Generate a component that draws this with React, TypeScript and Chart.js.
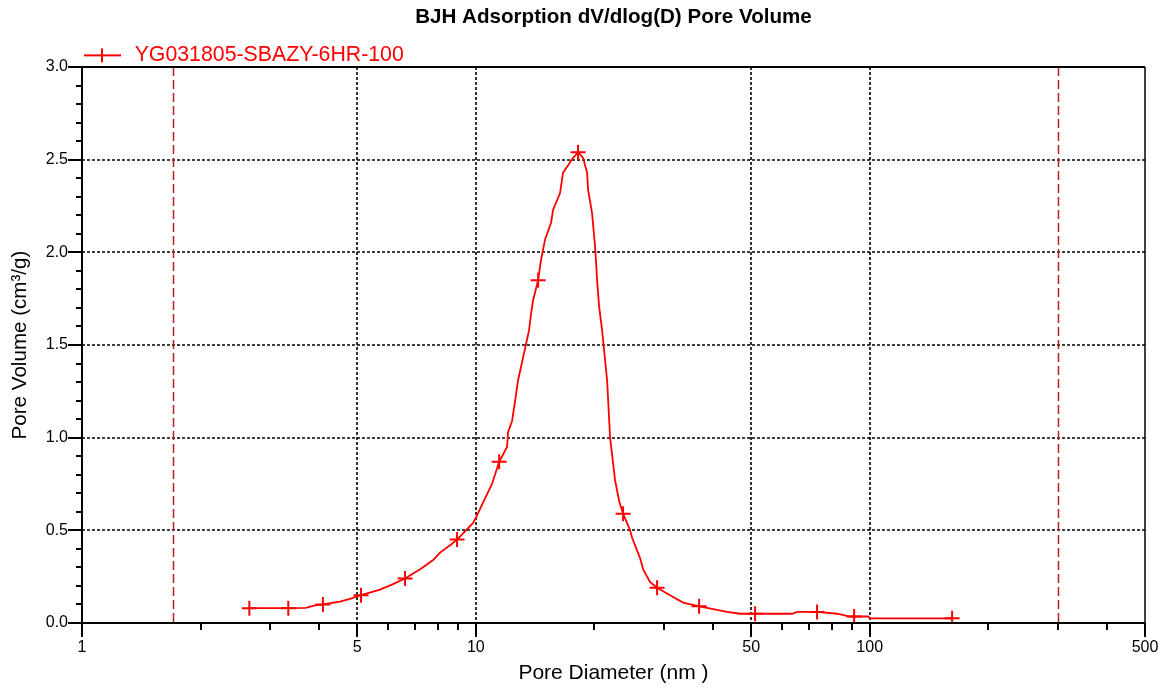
import React, { useEffect, useRef } from "react";
import { Chart, registerables } from "chart.js";

Chart.register(...registerables);

// ---- data ----
const chartTitle = "BJH Adsorption dV/dlog(D) Pore Volume";
const seriesLabel = "YG031805-SBAZY-6HR-100";
const xAxisTitle = "Pore Diameter (nm )";
const yAxisTitle = "Pore Volume (cm³/g)";

const poreDiameter = [
  2.66, 3.34, 3.7, 3.9, 4.09, 4.52, 4.79, 5.11, 5.71, 6.16, 6.61, 7.22, 7.79, 8.11, 8.6, 8.96,
  9.84, 10.01, 10.43, 10.99, 11.46, 12.0, 12.07, 12.36, 12.58, 12.8, 13.65, 13.81, 13.97, 14.39,
  14.64, 14.99, 15.52, 15.71, 16.36, 16.65, 17.15, 17.65, 18.18, 18.72, 19.16, 19.27, 19.73,
  20.08, 20.32, 20.55, 20.92, 21.54, 21.92, 22.57, 23.1, 23.65, 24.64, 24.93, 26.12, 26.58,
  27.7, 28.85, 31.12, 33.59, 36.88, 40.04, 43.45, 46.88, 51.17, 63.53, 65.42, 73.51, 82.63,
  89.18, 91.3, 99.06, 100.2, 161.9,
];
const poreVolume = [
  0.08, 0.08, 0.082, 0.095, 0.1, 0.115, 0.13, 0.15, 0.18, 0.21, 0.24, 0.29, 0.34, 0.38, 0.42, 0.45,
  0.54, 0.57, 0.65, 0.75, 0.87, 0.95, 1.03, 1.09, 1.2, 1.31, 1.58, 1.67, 1.74, 1.85,
  1.96, 2.07, 2.16, 2.23, 2.32, 2.43, 2.47, 2.51, 2.54, 2.51, 2.43, 2.34, 2.21,
  2.03, 1.85, 1.71, 1.58, 1.31, 1.0, 0.77, 0.66, 0.59, 0.5, 0.46, 0.35, 0.29,
  0.22, 0.19, 0.15, 0.11, 0.09, 0.075, 0.06, 0.05, 0.05, 0.05, 0.06, 0.06, 0.05,
  0.035, 0.035, 0.035, 0.025, 0.025,
];
const markerDiameters = [
  2.66, 3.34, 4.09, 5.11, 6.61, 8.96, 11.46, 14.39, 18.18, 23.65, 28.85, 36.88, 51.17, 73.51, 91.3, 161.9,
];

const xMin = 1;
const xMax = 500;
const yMin = 0;
const yMax = 3;
const xTickLabels = [1, 5, 10, 50, 100, 500];
const xMinorTicks = [2, 3, 4, 6, 7, 8, 9, 20, 30, 40, 60, 70, 80, 90, 200, 300, 400];
const xGridValues = [5, 10, 50, 100];
const yTickValues = [0, 0.5, 1.0, 1.5, 2.0, 2.5, 3.0];
const yMinorTicks = [0.1, 0.2, 0.3, 0.4, 0.6, 0.7, 0.8, 0.9, 1.1, 1.2, 1.3, 1.4, 1.6, 1.7, 1.8, 1.9, 2.1, 2.2, 2.3, 2.4, 2.6, 2.7, 2.8, 2.9];
const referenceLines = [1.7, 300];

const FONT = "'Liberation Sans', Arial, Helvetica, sans-serif";
const RED = "#ff0000";

const decorations = {
  id: "decorations",
  afterLayout(chart: any) {
    const lg = chart.legend;
    if (lg) {
      lg.top += 9;
      lg.bottom += 9;
    }
  },
  beforeDatasetsDraw(chart: any) {
    const { ctx, chartArea: a, scales } = chart;
    const x = scales.x;
    const y = scales.y;
    ctx.save();
    ctx.strokeStyle = "#000";
    ctx.lineWidth = 1.6;
    ctx.setLineDash([3, 2]);
    ctx.beginPath();
    for (const v of yTickValues) {
      if (v <= yMin || v >= yMax) continue;
      const py = Math.round(y.getPixelForValue(v));
      ctx.moveTo(a.left, py);
      ctx.lineTo(a.right, py);
    }
    for (const v of xGridValues) {
      const px = Math.round(x.getPixelForValue(v));
      ctx.moveTo(px, a.top);
      ctx.lineTo(px, a.bottom);
    }
    ctx.stroke();
    ctx.strokeStyle = "#b22222";
    ctx.lineWidth = 1.5;
    ctx.setLineDash([9, 4]);
    ctx.beginPath();
    for (const v of referenceLines) {
      const px = Math.round(x.getPixelForValue(v)) + 0.5;
      ctx.moveTo(px, a.top);
      ctx.lineTo(px, a.bottom);
    }
    ctx.stroke();
    ctx.restore();
  },
  afterDraw(chart: any) {
    const { ctx, chartArea: a, scales } = chart;
    const x = scales.x;
    const y = scales.y;
    ctx.save();
    ctx.setLineDash([]);
    ctx.strokeStyle = "#000";
    ctx.lineWidth = 2;
    ctx.beginPath();
    ctx.moveTo(a.left, a.top);
    ctx.lineTo(a.left, a.bottom);
    ctx.lineTo(a.right, a.bottom);
    ctx.moveTo(a.left, a.top);
    ctx.lineTo(a.right, a.top);
    ctx.stroke();
    ctx.lineWidth = 1.5;
    ctx.beginPath();
    ctx.moveTo(a.right, a.top);
    ctx.lineTo(a.right, a.bottom);
    ctx.stroke();
    ctx.lineWidth = 2;
    ctx.beginPath();
    for (const v of yTickValues) {
      const py = Math.round(y.getPixelForValue(v));
      ctx.moveTo(a.left - 14, py);
      ctx.lineTo(a.left, py);
    }
    for (const v of yMinorTicks) {
      const py = Math.round(y.getPixelForValue(v));
      ctx.moveTo(a.left - 6, py);
      ctx.lineTo(a.left, py);
    }
    for (const v of xTickLabels) {
      const px = Math.round(x.getPixelForValue(v));
      ctx.moveTo(px, a.bottom);
      ctx.lineTo(px, a.bottom + 14);
    }
    for (const v of xMinorTicks) {
      const px = Math.round(x.getPixelForValue(v));
      ctx.moveTo(px, a.bottom);
      ctx.lineTo(px, a.bottom + 7);
    }
    ctx.stroke();
    ctx.restore();
  },
};

export default function App() {
  const canvasRef = useRef<HTMLCanvasElement | null>(null);

  useEffect(() => {
    const canvas = canvasRef.current;
    if (!canvas) return;

    const legendMark = document.createElement("canvas");
    legendMark.width = 40;
    legendMark.height = 20;
    const g = legendMark.getContext("2d");
    if (g) {
      g.strokeStyle = RED;
      g.lineWidth = 2;
      g.beginPath();
      g.moveTo(0, 10);
      g.lineTo(37, 10);
      g.moveTo(18, 3);
      g.lineTo(18, 17);
      g.stroke();
    }

    const markerSet = new Set(markerDiameters);

    Chart.defaults.font.family = FONT;

    const chart = new Chart(canvas, {
      type: "line",
      data: {
        datasets: [
          {
            label: seriesLabel,
            data: poreDiameter.map((d, i) => ({ x: d, y: poreVolume[i] })),
            borderColor: RED,
            backgroundColor: RED,
            borderWidth: 1.8,
            pointStyle: "cross",
            pointRadius: (c: any) => (markerSet.has(poreDiameter[c.dataIndex]) ? 7.5 : 0),
            pointHoverRadius: 0,
            pointBorderWidth: 2,
            pointBorderColor: RED,
            tension: 0,
            fill: false,
          } as any,
        ],
      },
      options: {
        responsive: false,
        animation: false,
        devicePixelRatio: 1,
        layout: { padding: { left: 0, right: 20, top: 0, bottom: 0 } },
        plugins: {
          title: {
            display: true,
            text: chartTitle,
            color: "#000",
            fullSize: false,
            font: { family: FONT, size: 20.6, weight: "bold" },
            padding: { top: 5, bottom: 4 },
          },
          legend: {
            display: true,
            position: "top",
            align: "start",
            fullSize: false,
            labels: {
              usePointStyle: true,
              pointStyle: legendMark as any,
              pointStyleWidth: 40,
              padding: 2,
              color: RED,
              font: { family: FONT, size: 21.3 },
            },
          },
          tooltip: { enabled: false },
        },
        scales: {
          x: {
            type: "logarithmic",
            min: xMin,
            max: xMax,
            grid: { display: false, drawTicks: false },
            border: { display: false },
            afterBuildTicks: (scale: any) => {
              scale.ticks = xTickLabels.map((v) => ({ value: v }));
            },
            afterFit: (scale: any) => {
              scale.height = 65;
              scale.paddingLeft = 0;
              scale.paddingRight = 0;
            },
            ticks: {
              autoSkip: false,
              maxRotation: 0,
              minRotation: 0,
              padding: 15,
              color: "#000",
              font: { family: FONT, size: 16 },
              callback: (v: any) => String(v),
            },
            title: {
              display: true,
              text: xAxisTitle,
              color: "#000",
              font: { family: FONT, size: 21 },
              padding: { top: 0, bottom: 2 },
            },
          },
          y: {
            type: "linear",
            min: yMin,
            max: yMax,
            grid: { display: false, drawTicks: false },
            border: { display: false },
            afterBuildTicks: (scale: any) => {
              scale.ticks = yTickValues.map((v) => ({ value: v }));
            },
            afterFit: (scale: any) => {
              scale.width = 82;
            },
            ticks: {
              padding: 14,
              color: "#000",
              font: { family: FONT, size: 16 },
              callback: (v: any) => Number(v).toFixed(1),
            },
            title: {
              display: true,
              text: yAxisTitle,
              color: "#000",
              font: { family: FONT, size: 20.6 },
              padding: { top: 8, bottom: 0 },
            },
          },
        },
      },
      plugins: [decorations as any],
    });

    return () => {
      chart.destroy();
    };
  }, []);

  return (
    <div style={{ position: "absolute", left: 0, top: 0, width: 1165, height: 688, background: "#fff" }}>
      <canvas ref={canvasRef} width={1165} height={688} style={{ display: "block" }} />
    </div>
  );
}
